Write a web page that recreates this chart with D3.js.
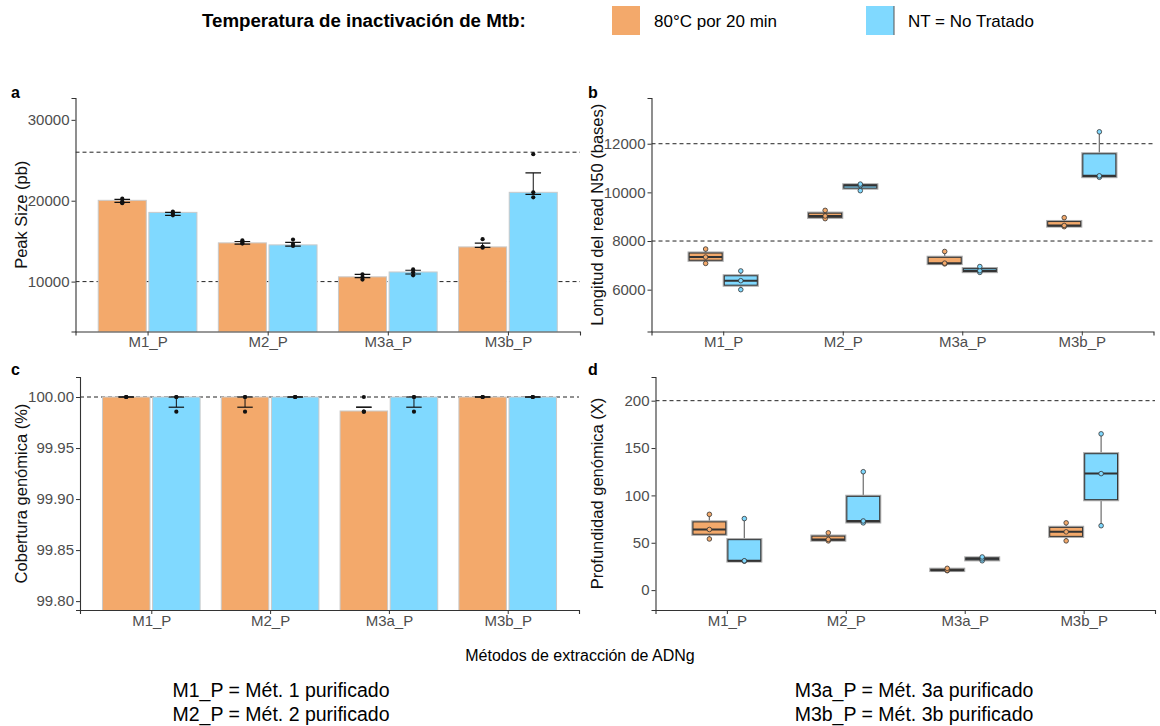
<!DOCTYPE html>
<html>
<head>
<meta charset="utf-8">
<script src="https://cdn.jsdelivr.net/npm/d3@7"></script>
<style>
  body { margin: 0; background: #fff; }
  svg { font-family: "Liberation Sans", Arial, sans-serif; }
</style>
</head>
<body>
<div id="chart"></div>
<script>
// categories
var groups = ["M1_P", "M2_P", "M3a_P", "M3b_P"];
var treatments = ["80°C por 20 min", "NT = No Tratado"];
var legendTitle = "Temperatura de inactivación de Mtb:";

// a: Peak Size (pb) - bars, error bars, replicates
var peakBar80 = [20050, 14790, 10590, 14290];
var peakBarNT = [18560, 14540, 11190, 21040];
var peakErrLo80 = [19800, 14630, 10490, 14220];
var peakErrHi80 = [20170, 14960, 10900, 14750];
var peakErrLoNT = [18200, 14380, 10940, 20790];
var peakErrHiNT = [18560, 14840, 11400, 23440];
var peakPts80 = [[20250, 19900, 19700], [15100, 14800, 14700], [10900, 10550, 10250], [15250, 14290, 14200]];
var peakPtsNT = [[18650, 18400, 18200], [15200, 14650, 14400], [11500, 11150, 10780], [25760, 21040, 20420]];

// b: Longitud del read N50 (bases) - replicates per box
var n50Pts80 = [[7080, 7340, 7670], [8920, 9030, 9260], [7060, 7090, 7570], [8590, 8640, 8960]];
var n50PtsNT = [[6000, 6370, 6770], [10070, 10280, 10340], [6710, 6780, 6950], [10620, 10680, 12490]];

// c: Cobertura genómica (%)
var covBar80 = [100, 100, 99.9863, 100];
var covBarNT = [100, 100, 100, 100];
var covErrLo80 = [100, 99.990, 99.990, 100];
var covErrHi80 = [100, 100, 99.990, 100];
var covErrLoNT = [99.990, 100, 99.990, 100];
var covErrHiNT = [100, 100, 100, 100];
var covPts80 = [[100, 100, 100], [100, 100, 99.9856], [100, 99.9856, 99.9856], [100, 100, 100]];
var covPtsNT = [[100, 100, 99.9856], [100, 100, 100], [100, 100, 99.9856], [100, 100, 100]];

// d: Profundidad genómica (X)
var depthPts80 = [[54, 64, 80], [52, 53.5, 60.5], [20.5, 21, 23], [52, 61.5, 71]];
var depthPtsNT = [[30.5, 31, 75.5], [71, 73, 125], [31, 33, 35], [68, 123, 165]];

// tick values
var peakTicks = [10000, 20000, 30000];
var n50Ticks = [6000, 8000, 10000, 12000];
var covTicks = [99.80, 99.85, 99.90, 99.95, 100.00];
var depthTicks = [0, 50, 100, 150, 200];

var colors = ["#F3A96B", "#80D9FF"];

var width = 1160, height = 726;
var svg = d3.select("#chart").append("svg")
  .attr("width", width)
  .attr("height", height);

function makePanel(p) {
  var g = svg.append("g");
  var x = d3.scalePoint().domain(groups).range([p.left, p.right]).padding(0.6);
  var y = d3.scaleLinear().domain(p.domain).range([p.bottom, p.top]);

  var clipId = "clip-" + p.letter;
  svg.append("clipPath").attr("id", clipId)
    .append("rect")
    .attr("x", p.left).attr("y", p.top)
    .attr("width", p.right - p.left).attr("height", p.bottom - p.top);

  var plot = g.append("g").attr("clip-path", "url(#" + clipId + ")");

  // dashed reference lines
  plot.selectAll("line.ref")
    .data(p.hlines)
    .enter()
    .append("line")
      .attr("class", "ref")
      .attr("x1", p.left).attr("x2", p.right)
      .attr("y1", function(d) { return y(d); })
      .attr("y2", function(d) { return y(d); })
      .attr("stroke", "#222")
      .attr("stroke-width", 1)
      .attr("stroke-dasharray", "4,3");

  // axes
  var yAxis = d3.axisLeft(y).tickValues(p.ticks).tickFormat(p.fmt).tickSize(4).tickPadding(2);
  var xAxis = d3.axisBottom(x).tickSize(4).tickPadding(1);

  var ya = g.append("g").attr("transform", "translate(" + p.left + ",0)").call(yAxis);
  var xa = g.append("g").attr("transform", "translate(0," + p.bottom + ")").call(xAxis);
  [ya, xa].forEach(function(a) {
    a.select(".domain").attr("stroke", "#333").attr("stroke-width", 1.1);
    a.selectAll(".tick line").attr("stroke", "#333");
    a.selectAll(".tick text")
      .attr("fill", "#4d4d4d")
      .style("font-size", "15px")
      .style("font-family", "Liberation Sans, Arial, sans-serif");
  });

  // axis title
  g.append("text")
    .attr("transform", "translate(" + p.titleX + "," + ((p.top + p.bottom) / 2) + ") rotate(-90)")
    .attr("text-anchor", "middle")
    .attr("dy", "0.35em")
    .style("font-size", "16.5px")
    .attr("fill", "#111")
    .text(p.title);

  // panel letter
  g.append("text")
    .attr("x", p.letterX).attr("y", p.letterY)
    .style("font-size", "16px")
    .style("font-weight", "bold")
    .text(p.letter);

  return { plot: plot, x: x, y: y, step: x.step(), bottom: p.bottom };
}

function drawBars(panel, bars80, barsNT, lo80, hi80, loNT, hiNT, pts80, ptsNT) {
  var rows = [];
  groups.forEach(function(grp, i) {
    rows.push({ g: grp, t: 0, v: bars80[i], lo: lo80[i], hi: hi80[i], pts: pts80[i] });
    rows.push({ g: grp, t: 1, v: barsNT[i], lo: loNT[i], hi: hiNT[i], pts: ptsNT[i] });
  });
  var s = panel.step, gap = 1.3, bw = 0.4 * s;
  function left(d) { return d.t === 0 ? panel.x(d.g) - gap - bw : panel.x(d.g) + gap; }
  function mid(d) { return left(d) + bw / 2; }

  panel.plot.selectAll("rect.bar")
    .data(rows)
    .enter()
    .append("rect")
      .attr("class", "bar")
      .attr("x", left)
      .attr("width", bw)
      .attr("y", function(d) { return panel.y(d.v); })
      .attr("height", function(d) { return panel.bottom + 5 - panel.y(d.v); })
      .attr("fill", function(d) { return colors[d.t]; })
      .attr("stroke", "#c9c9c9")
      .attr("stroke-width", 1);

  var cap = 0.065 * s;
  var eb = panel.plot.selectAll("g.err").data(rows).enter().append("g").attr("class", "err");
  eb.append("line")
    .attr("x1", mid).attr("x2", mid)
    .attr("y1", function(d) { return panel.y(d.lo); })
    .attr("y2", function(d) { return panel.y(d.hi); })
    .attr("stroke", "#111").attr("stroke-width", 1);
  eb.append("line")
    .attr("x1", function(d) { return mid(d) - cap; })
    .attr("x2", function(d) { return mid(d) + cap; })
    .attr("y1", function(d) { return panel.y(d.lo); })
    .attr("y2", function(d) { return panel.y(d.lo); })
    .attr("stroke", "#111").attr("stroke-width", 1.2);
  eb.append("line")
    .attr("x1", function(d) { return mid(d) - cap; })
    .attr("x2", function(d) { return mid(d) + cap; })
    .attr("y1", function(d) { return panel.y(d.hi); })
    .attr("y2", function(d) { return panel.y(d.hi); })
    .attr("stroke", "#111").attr("stroke-width", 1.2);

  var dots = [];
  rows.forEach(function(d) {
    d.pts.forEach(function(v) { dots.push({ cx: mid(d), v: v }); });
  });
  panel.plot.selectAll("circle.pt")
    .data(dots)
    .enter()
    .append("circle")
      .attr("class", "pt")
      .attr("cx", function(d) { return d.cx; })
      .attr("cy", function(d) { return panel.y(d.v); })
      .attr("r", 2.1)
      .attr("fill", "#111");
}

function drawBoxes(panel, pts80, ptsNT) {
  var rows = [];
  groups.forEach(function(grp, i) {
    [pts80[i], ptsNT[i]].forEach(function(vals, t) {
      var v = vals.slice().sort(d3.ascending);
      var q1 = d3.quantile(v, 0.25), med = d3.quantile(v, 0.5), q3 = d3.quantile(v, 0.75);
      var iqr = q3 - q1;
      var wLo = d3.min(v.filter(function(a) { return a >= q1 - 1.5 * iqr; }));
      var wHi = d3.max(v.filter(function(a) { return a <= q3 + 1.5 * iqr; }));
      rows.push({ g: grp, t: t, q1: q1, med: med, q3: q3, lo: wLo, hi: wHi, pts: v });
    });
  });
  var s = panel.step, bw = 0.276 * s;
  function cx(d) { return panel.x(d.g) + (d.t === 0 ? -0.147 : 0.147) * s; }

  var b = panel.plot.selectAll("g.box").data(rows).enter().append("g").attr("class", "box");
  b.append("line")
    .attr("x1", cx).attr("x2", cx)
    .attr("y1", function(d) { return panel.y(d.lo); })
    .attr("y2", function(d) { return panel.y(d.hi); })
    .attr("stroke", "#777").attr("stroke-width", 1.3);
  b.append("rect")
    .attr("x", function(d) { return cx(d) - bw / 2; })
    .attr("width", bw)
    .attr("y", function(d) { return panel.y(d.q3); })
    .attr("height", function(d) { return Math.max(1, panel.y(d.q1) - panel.y(d.q3)); })
    .attr("fill", "none")
    .attr("stroke", "#aaa").attr("stroke-width", 3.2);
  b.append("rect")
    .attr("x", function(d) { return cx(d) - bw / 2; })
    .attr("width", bw)
    .attr("y", function(d) { return panel.y(d.q3); })
    .attr("height", function(d) { return Math.max(1, panel.y(d.q1) - panel.y(d.q3)); })
    .attr("fill", function(d) { return colors[d.t]; })
    .attr("stroke", "#333").attr("stroke-width", 1);
  b.append("line")
    .attr("x1", function(d) { return cx(d) - bw / 2; })
    .attr("x2", function(d) { return cx(d) + bw / 2; })
    .attr("y1", function(d) { return panel.y(d.med); })
    .attr("y2", function(d) { return panel.y(d.med); })
    .attr("stroke", "#333").attr("stroke-width", 2);

  var dots = [];
  rows.forEach(function(d) {
    d.pts.forEach(function(v) { dots.push({ cx: cx(d), v: v, t: d.t }); });
  });
  panel.plot.selectAll("circle.pt")
    .data(dots)
    .enter()
    .append("circle")
      .attr("class", "pt")
      .attr("cx", function(d) { return d.cx; })
      .attr("cy", function(d) { return panel.y(d.v); })
      .attr("r", 2.3)
      .attr("fill", function(d) { return colors[d.t]; })
      .attr("stroke", "#333")
      .attr("stroke-width", 0.8);
}

var pa = makePanel({ letter: "a", left: 75.5, right: 580, top: 98, bottom: 331.5,
  domain: [3830, 32700], ticks: peakTicks, fmt: d3.format("d"), hlines: [26000, 10000],
  title: "Peak Size (pb)", titleX: 21, letterX: 11, letterY: 98 });
drawBars(pa, peakBar80, peakBarNT, peakErrLo80, peakErrHi80, peakErrLoNT, peakErrHiNT, peakPts80, peakPtsNT);

var pb = makePanel({ letter: "b", left: 651.5, right: 1153.5, top: 98, bottom: 331.5,
  domain: [4280, 13880], ticks: n50Ticks, fmt: d3.format("d"), hlines: [12000, 8000],
  title: "Longitud del read N50 (bases)", titleX: 597, letterX: 588, letterY: 98 });
drawBoxes(pb, n50Pts80, n50PtsNT);

var pc = makePanel({ letter: "c", left: 80, right: 579, top: 377, bottom: 610,
  domain: [99.7913, 100.0196], ticks: covTicks, fmt: d3.format(".2f"), hlines: [100],
  title: "Cobertura genómica (%)", titleX: 21, letterX: 11, letterY: 375 });
drawBars(pc, covBar80, covBarNT, covErrLo80, covErrHi80, covErrLoNT, covErrHiNT, covPts80, covPtsNT);

var pd = makePanel({ letter: "d", left: 655.5, right: 1155, top: 377, bottom: 610,
  domain: [-21, 225], ticks: depthTicks, fmt: d3.format("d"), hlines: [200],
  title: "Profundidad genómica (X)", titleX: 597, letterX: 588, letterY: 375 });
drawBoxes(pd, depthPts80, depthPtsNT);

// legend
var legend = svg.append("g");
legend.append("text")
  .attr("x", 202).attr("y", 27)
  .style("font-size", "18.7px").style("font-weight", "bold")
  .text(legendTitle);
var keyX = [612, 866];
treatments.forEach(function(t, i) {
  legend.append("rect")
    .attr("x", keyX[i]).attr("y", 6)
    .attr("width", 28).attr("height", 29)
    .attr("fill", colors[i]);
  legend.append("text")
    .attr("x", keyX[i] + 42).attr("y", 27)
    .style("font-size", "17px")
    .text(t);
});
legend.append("line")
  .attr("x1", keyX[1] + 28).attr("x2", keyX[1] + 28)
  .attr("y1", 6).attr("y2", 35)
  .attr("stroke", "#555").attr("stroke-width", 1);

// common x title
svg.append("text")
  .attr("x", 580).attr("y", 661)
  .attr("text-anchor", "middle")
  .style("font-size", "16px")
  .text("Métodos de extracción de ADNg");

// footnotes
var notesLeft = ["M1_P = Mét. 1 purificado", "M2_P = Mét. 2 purificado"];
var notesRight = ["M3a_P = Mét. 3a purificado", "M3b_P = Mét. 3b purificado"];
[[notesLeft, 281], [notesRight, 914]].forEach(function(n) {
  n[0].forEach(function(s, i) {
    svg.append("text")
      .attr("x", n[1]).attr("y", 697 + i * 24)
      .attr("text-anchor", "middle")
      .style("font-size", "19.5px")
      .text(s);
  });
});
</script>
</body>
</html>
